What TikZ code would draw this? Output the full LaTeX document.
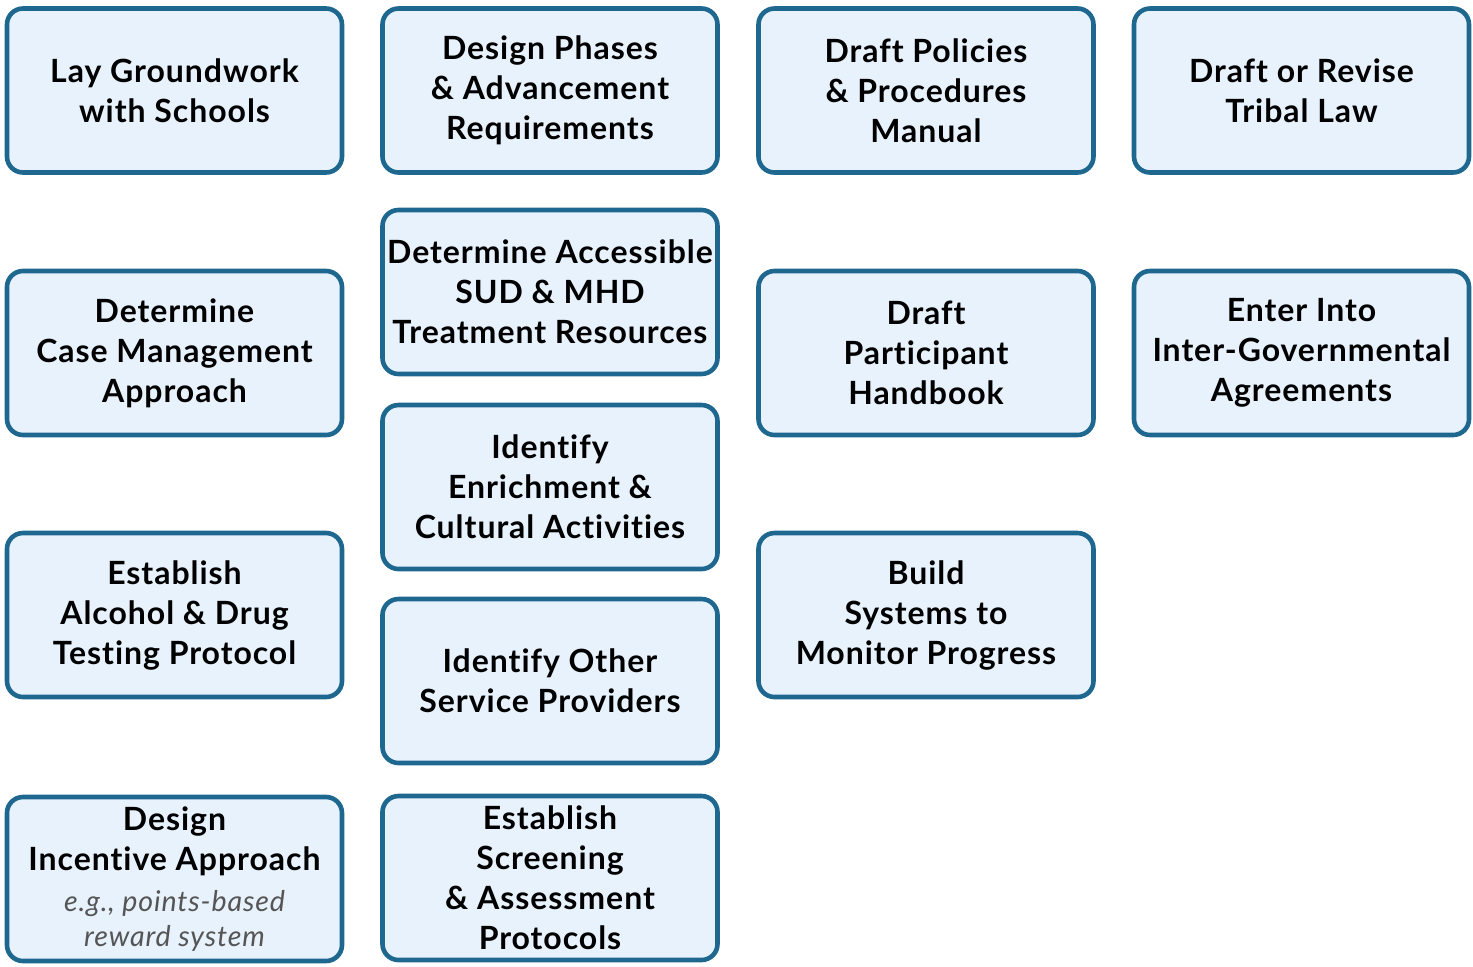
\documentclass[tikz,border=0pt]{standalone}
\usepackage{fontspec}
\setmainfont{Lato}[LetterSpace=3,Ligatures=NoCommon]
\newfontfamily\notefont{Lato}[LetterSpace=3,Ligatures=NoCommon]
\usetikzlibrary{positioning}

\definecolor{taskline}{RGB}{30,104,144}
\definecolor{taskfill}{RGB}{232,242,252}
\definecolor{notegray}{RGB}{85,85,85}

\newcommand{\tasknote}[1]{{\notefont\mdseries\itshape\fontsize{14.3}{17.5}\selectfont\color{notegray}#1}}

\tikzset{
  task/.style={draw=taskline, fill=taskfill, line width=2.3pt, rounded corners=8pt,
    minimum width=167.5pt, minimum height=82pt, align=center, inner sep=1pt,
    font=\bfseries\fontsize{16}{20}\selectfont}
}

\begin{document}
\begin{tikzpicture}[x=0.5pt,y=-0.5pt]
 \useasboundingbox (0,0) rectangle (1473,966);
 % first column
 \node[task] (lay) at (174.5,90.5) {Lay Groundwork\\with Schools};
 \node[task] (case) at (174.5,353) {Determine\\Case Management\\Approach};
 \node[task] (test) at (174.5,615) {Establish\\Alcohol \& Drug\\Testing Protocol};
 \node[task] (incent) at (174.5,879) {Design\\Incentive Approach\\[0.5pt]\tasknote{e.g., points-based}\\[-2.5pt]\tasknote{reward system}};
 % second column
 \node[task] (phase) at (550,90.5) {Design Phases\\\& Advancement\\Requirements};
 \node[task] (sud) at (550,292) {Determine Accessible\\SUD \& MHD\\Treatment Resources};
 \node[task] (enrich) at (550,487) {Identify\\Enrichment \&\\Cultural Activities};
 \node[task] (other) at (550,681) {Identify Other\\Service Providers};
 \node[task] (screen) at (550,878) {Establish\\Screening\\\& Assessment\\Protocols};
 % third column
 \node[task] (policy) at (926,90.5) {Draft Policies\\\& Procedures\\Manual};
 \node[task] (hand) at (926,353) {Draft\\Participant\\Handbook};
 \node[task] (monitor) at (926,615) {Build\\Systems to\\Monitor Progress};
 % fourth column
 \node[task] (law) at (1301.5,90.5) {Draft or Revise\\Tribal Law};
 \node[task] (agree) at (1301.5,353) {Enter Into\\Inter-Governmental\\Agreements};
\end{tikzpicture}
\end{document}
